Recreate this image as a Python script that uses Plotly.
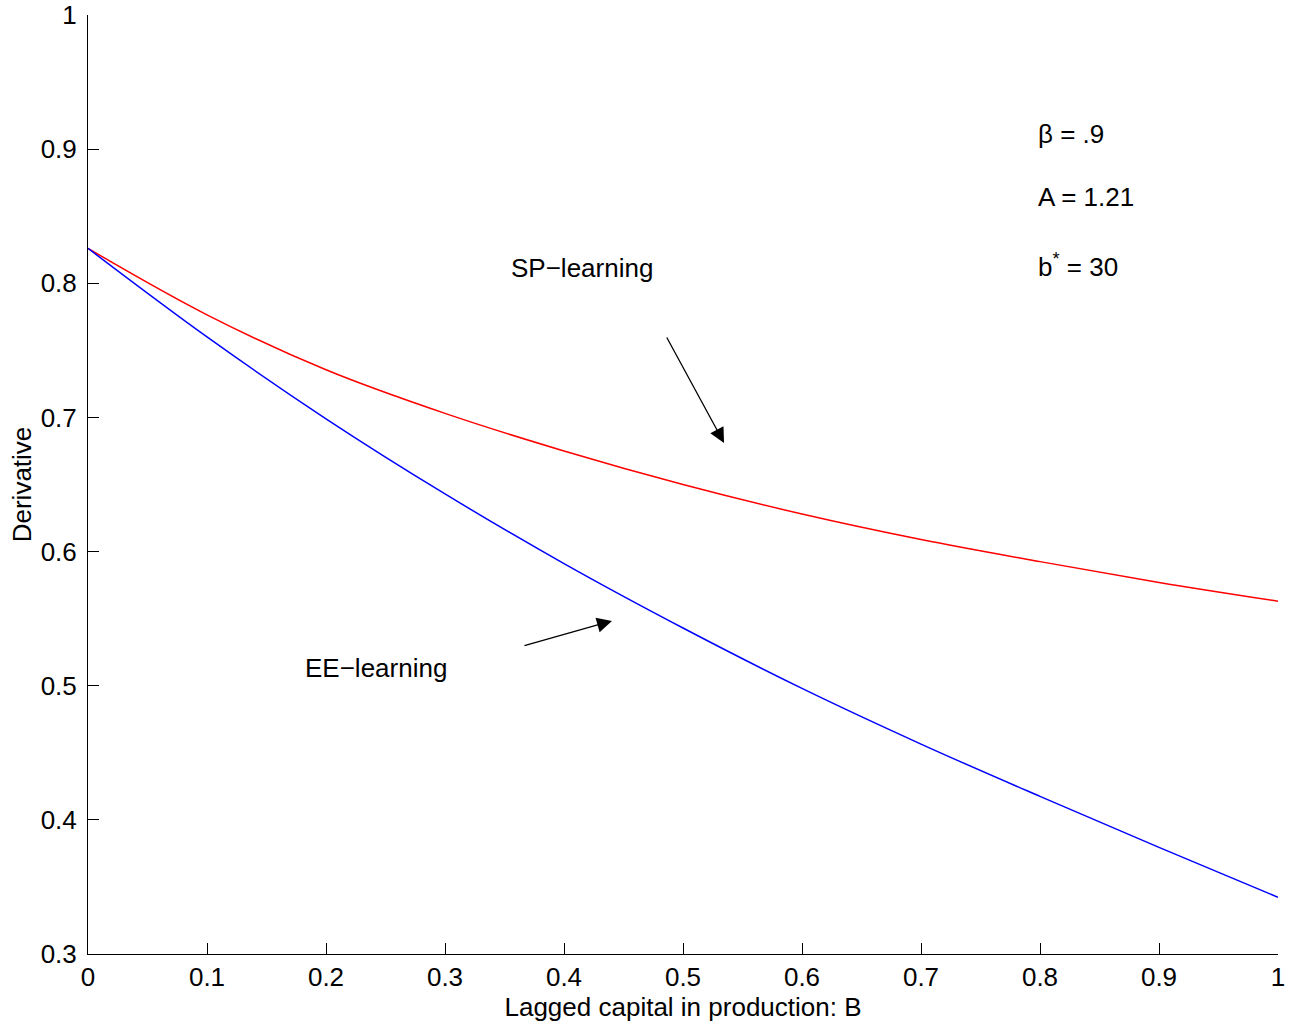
import plotly.graph_objects as go

x_vals = [0.0, 0.1, 0.2, 0.3, 0.4, 0.5, 0.6, 0.7, 0.8, 0.9, 1.0]
sp_learning = [0.826, 0.7765, 0.7355, 0.703, 0.675, 0.650, 0.628, 0.609, 0.5925, 0.577, 0.563]
ee_learning = [0.826, 0.760, 0.699, 0.643, 0.591, 0.543, 0.498, 0.4565, 0.4175, 0.3795, 0.3423]

x_ticks = [0, 0.1, 0.2, 0.3, 0.4, 0.5, 0.6, 0.7, 0.8, 0.9, 1]
x_tick_labels = ["0", "0.1", "0.2", "0.3", "0.4", "0.5", "0.6", "0.7", "0.8", "0.9", "1"]
y_ticks = [0.3, 0.4, 0.5, 0.6, 0.7, 0.8, 0.9, 1.0]
y_tick_labels = ["0.3", "0.4", "0.5", "0.6", "0.7", "0.8", "0.9", "1"]

FONT = "Liberation Sans, Arial, Helvetica, sans-serif"
FS = 26

fig = go.Figure()
fig.add_trace(go.Scatter(x=x_vals, y=sp_learning, mode="lines",
                         line=dict(color="#ff0000", width=1.5, shape="spline"),
                         name="SP-learning", showlegend=False))
fig.add_trace(go.Scatter(x=x_vals, y=ee_learning, mode="lines",
                         line=dict(color="#0000ff", width=1.5, shape="spline"),
                         name="EE-learning", showlegend=False))

annotations = [
    dict(x=0.415, y=0.8114, text="SP\u2212learning", showarrow=False,
         xanchor="center", yanchor="middle"),
    dict(x=0.242, y=0.5132, text="EE\u2212learning", showarrow=False,
         xanchor="center", yanchor="middle"),
    dict(x=0.7966, y=0.9113, text="\u03b2 = .9", showarrow=False,
         xanchor="left", yanchor="middle"),
    dict(x=0.7966, y=0.8643, text="A = 1.21", showarrow=False,
         xanchor="left", yanchor="middle"),
    dict(x=0.7966, y=0.8129, text="b<sup>*</sup> = 30", showarrow=False,
         xanchor="left", yanchor="middle"),
    dict(x=0.5345, y=0.681, ax=0.4857, ay=0.7607, axref="x", ayref="y",
         text="", showarrow=True, arrowhead=2, arrowsize=2.3, arrowwidth=1.3,
         arrowcolor="black"),
    dict(x=0.4403, y=0.5483, ax=0.3655, ay=0.5296, axref="x", ayref="y",
         text="", showarrow=True, arrowhead=2, arrowsize=2.3, arrowwidth=1.3,
         arrowcolor="black"),
]
for a in annotations:
    a["font"] = dict(family=FONT, size=FS, color="black")
    a["xref"] = "x"
    a["yref"] = "y"

fig.update_layout(
    width=1296, height=1028,
    margin=dict(l=88, r=18, t=15, b=74, autoexpand=False),
    paper_bgcolor="white", plot_bgcolor="white",
    font=dict(family=FONT, size=FS, color="black"),
    annotations=annotations,
    xaxis=dict(range=[0, 1], tickvals=x_ticks, ticktext=x_tick_labels,
               showgrid=False, zeroline=False, showline=True, linecolor="black",
               linewidth=1, ticks="inside", ticklen=11, tickcolor="black",
               automargin=False,
               tickfont=dict(family=FONT, size=FS, color="black"),
               title=dict(text="Lagged capital in production: B", standoff=4,
                          font=dict(family=FONT, size=FS, color="black"))),
    yaxis=dict(range=[0.3, 1.0], tickvals=y_ticks, ticktext=y_tick_labels,
               showgrid=False, zeroline=False, showline=True, linecolor="black",
               linewidth=1, ticks="inside", ticklen=11, tickcolor="black",
               automargin=False, ticklabelstandoff=5,
               tickfont=dict(family=FONT, size=FS, color="black"),
               title=dict(text="Derivative", standoff=1,
                          font=dict(family=FONT, size=FS, color="black"))),
)

fig.write_html("out.html", config={"displayModeBar": False},
               post_script="document.body.style.margin='0';document.body.style.overflow='hidden';")
